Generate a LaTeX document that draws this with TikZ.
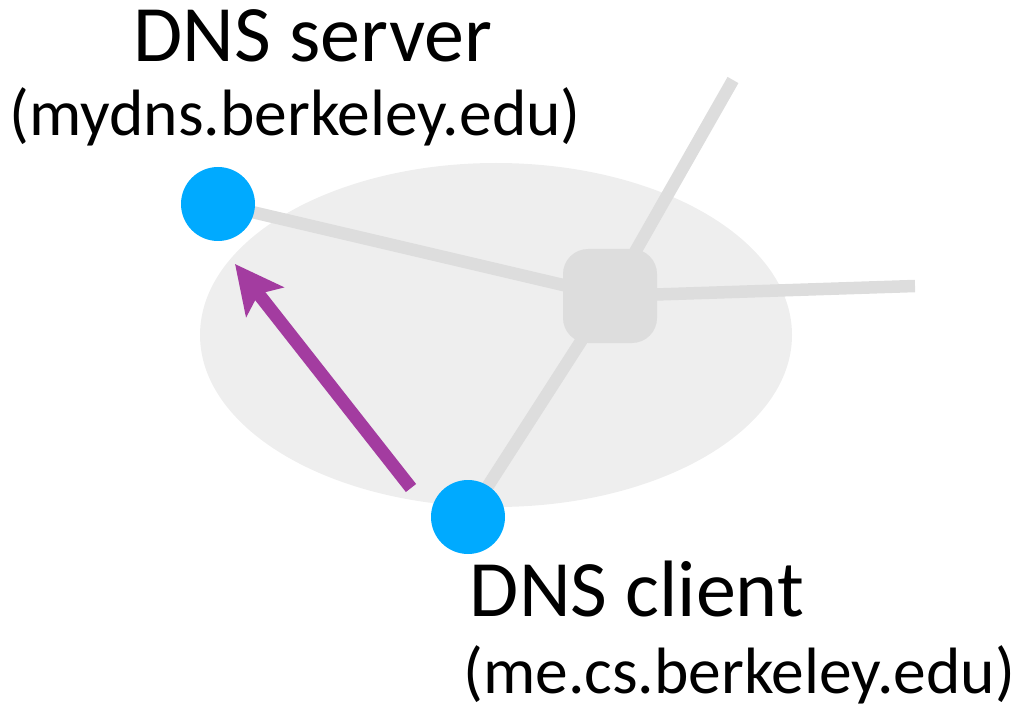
\documentclass[tikz,border=0pt]{standalone}
\usepackage{fontspec}
\setmainfont{Carlito}
\usetikzlibrary{arrows.meta,backgrounds}
\definecolor{hostblue}{HTML}{00AAFF}
\definecolor{linkgray}{HTML}{DDDDDD}
\definecolor{zonegray}{HTML}{EEEEEE}
\definecolor{querypurple}{HTML}{A33CA0}
\tikzset{
  host/.style={circle, fill=hostblue, minimum size=74pt, inner sep=0pt},
  switchbox/.style={rectangle, rounded corners=25pt, fill=linkgray, minimum size=94pt, inner sep=0pt},
  link/.style={draw=linkgray, line width=12.5pt},
  query/.style={draw=querypurple, line width=13pt, -{Stealth[length=48pt, width=47pt, inset=10pt]}},
  bigtext/.style={inner sep=0pt, anchor=base, font=\fontsize{80}{92}\selectfont},
  smalltext/.style={inner sep=0pt, anchor=base, font=\fontsize{65.5}{76}\selectfont},
}
\begin{document}
\begin{tikzpicture}[x=1pt, y=-1pt]
\useasboundingbox (0,0) rectangle (1016,708);

% network devices
\node[switchbox] (router) at (610,296) {};
\node[host] (server) at (218,204) {};
\node[host] (client) at (468,517) {};

% loose ends of the outgoing links
\coordinate (uplink) at (733,80);
\coordinate (eastlink) at (915,286);

\begin{scope}[on background layer]
  \fill[zonegray] (496,335) ellipse [x radius=296pt, y radius=172pt];
  \draw[link] (server.center) -- (router.center);
  \draw[link] (router.center) -- (client.center);
  \draw[link] (router.center) -- (uplink);
  \draw[link] (router.center) -- (eastlink);
\end{scope}

% DNS query from client to server
\coordinate (qtail) at (411,488);
\coordinate (qhead) at (235,264);
\draw[query] (qtail) -- (qhead);

% labels
\node[bigtext] (servername) at (313,62) {DNS server};
\node[smalltext] (serveraddr) at (295,136) {(mydns.berkeley.edu)};
\node[bigtext] (clientname) at (637,616) {DNS client};
\node[smalltext] (clientaddr) at (739,693) {(me.cs.berkeley.edu)};
\end{tikzpicture}
\end{document}
